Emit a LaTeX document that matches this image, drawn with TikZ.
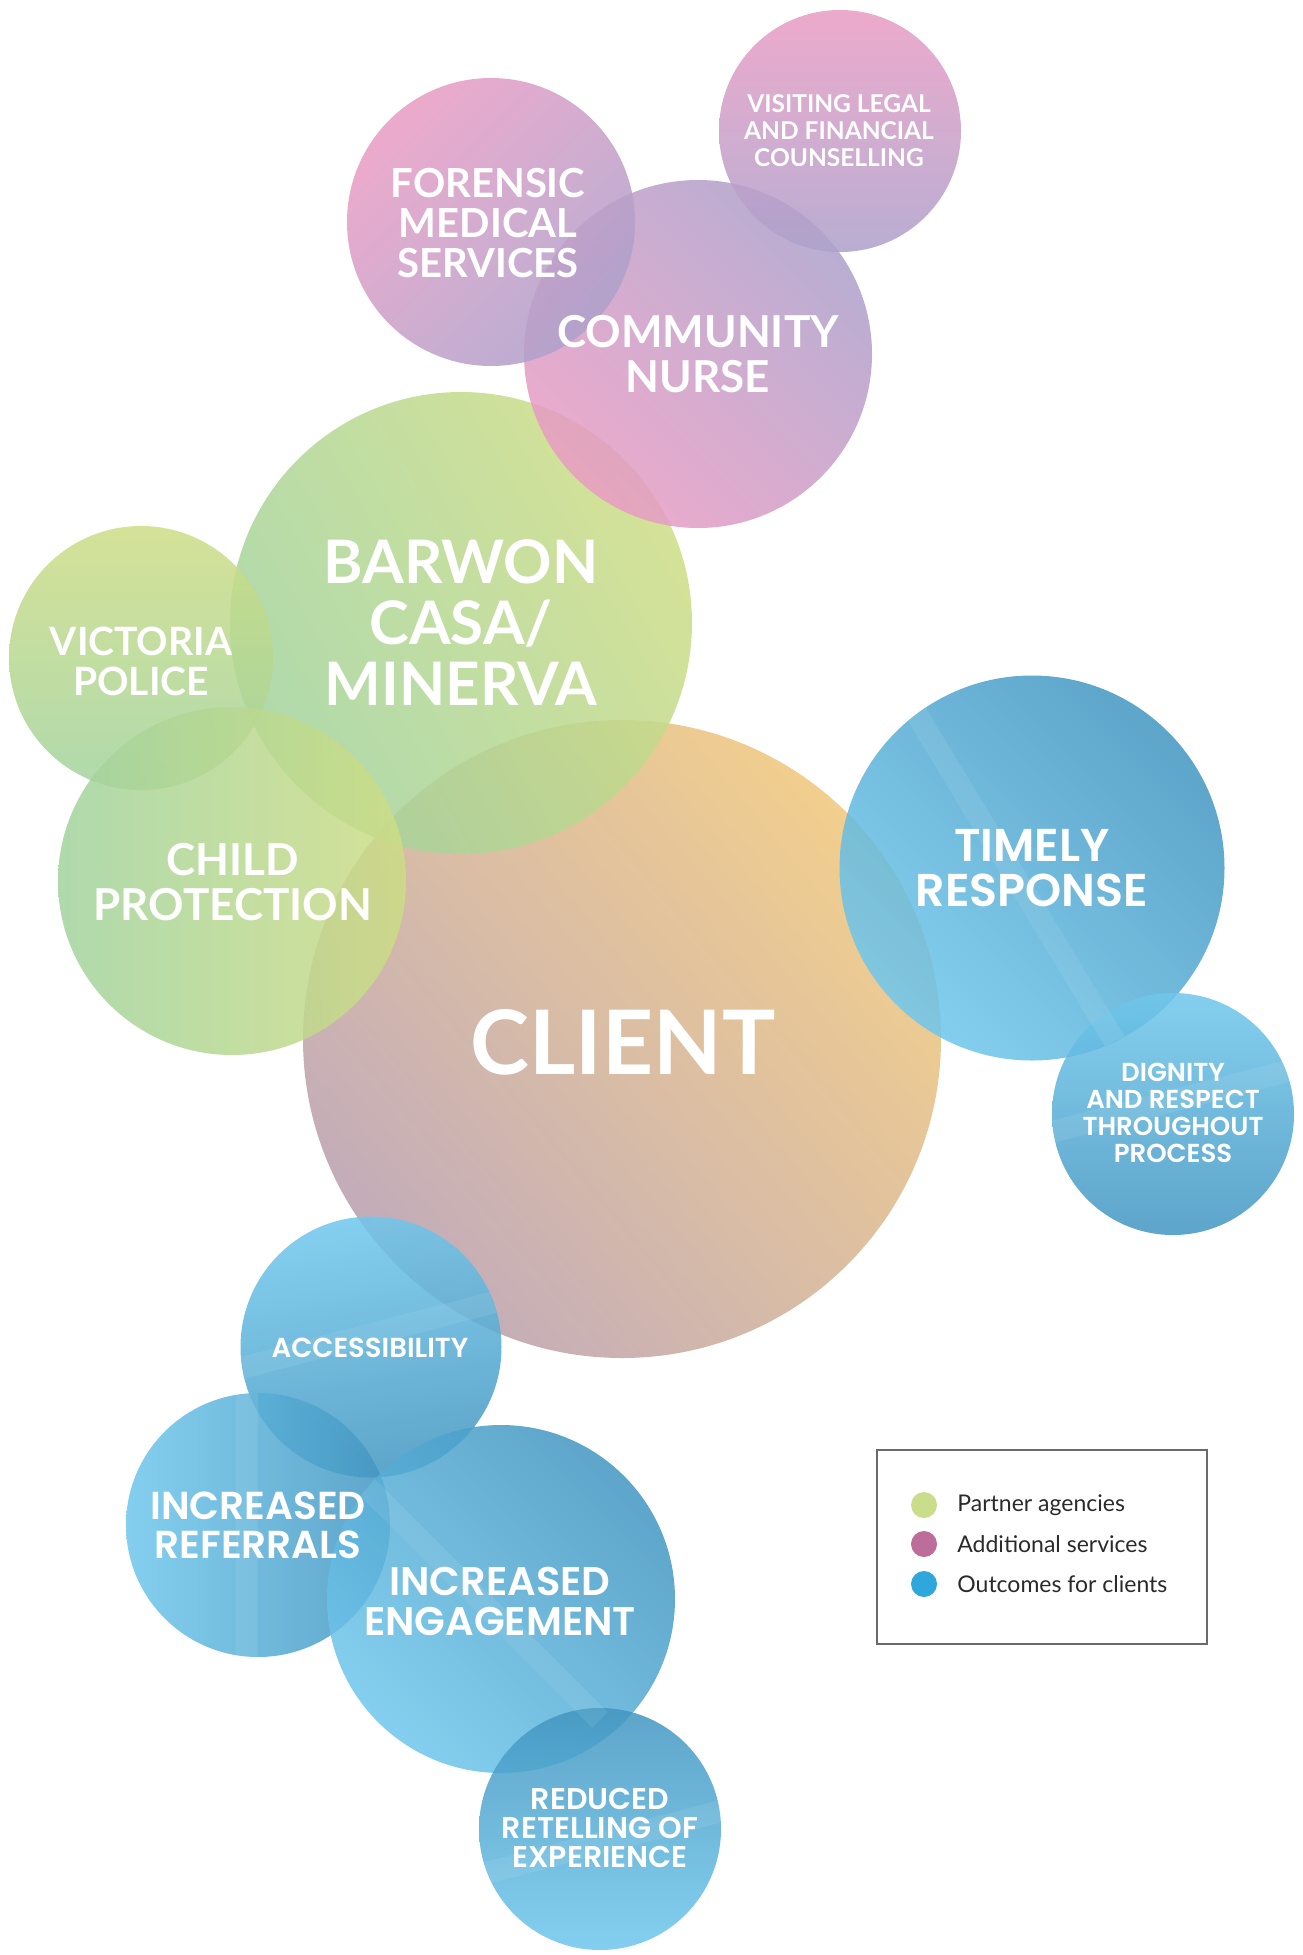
\documentclass[tikz,border=0pt]{standalone}
\usepackage{xcolor}
\usepackage{tikz}
\usepackage{fontspec}
\setmainfont{Lato}
\newfontfamily\outfont{Poppins}[UprightFont={* SemiBold}]
\usetikzlibrary{positioning}

\definecolor{clientA}{HTML}{C0A8B6}
\definecolor{clientM}{HTML}{E9C190}
\definecolor{clientB}{HTML}{F1CC87}
\definecolor{greenA}{HTML}{A2D39E}
\definecolor{greenB}{HTML}{CEDD86}
\definecolor{pinkA}{HTML}{E99CC4}
\definecolor{pinkB}{HTML}{ADA1CB}
\definecolor{blueA}{HTML}{70C7EC}
\definecolor{blueB}{HTML}{4296C1}
\definecolor{dotgreen}{HTML}{CADD8A}
\definecolor{dotpink}{HTML}{BC6D99}
\definecolor{dotblue}{HTML}{2FA6DC}
\definecolor{boxgray}{HTML}{6A6A6A}
\definecolor{legendtext}{HTML}{2A2A2A}

\tikzset{
  bubble/.style={circle, inner sep=0pt, outer sep=0pt, minimum size=#1, fill opacity=0.86},
  partner/.style={shade, left color=greenA, right color=greenB},
  service/.style={shade, left color=pinkA, right color=pinkB},
  outcome/.style={shade, left color=blueA, right color=blueB},
  lbl/.style n args={2}{text=white, align=center, inner sep=0pt, font=\fontsize{#1}{#2}\selectfont\bfseries},
  olbl/.style n args={2}{text=white, align=center, inner sep=0pt, font=\outfont\fontsize{#1}{#2}\selectfont},
  glare/.style={white, opacity=0.08, line width=22pt},
  dot/.style={circle, inner sep=0pt, minimum size=26pt},
  keytext/.style={text=legendtext, inner sep=0pt, font=\fontsize{23}{23}\selectfont, right=20pt of #1},
}

\begin{document}
\begin{tikzpicture}[x=1pt, y=-1pt]
  \useasboundingbox (0,0) rectangle (1303,1955);

  \node[bubble=638pt, shade, left color=clientA, middle color=clientM, right color=clientB, shading angle=130, fill opacity=0.95] (client) at (622,1039) {};
  \node[bubble=462pt, partner, shading angle=120] (barwon)    at (461,623)  {};
  \node[bubble=264pt, partner, shading angle=180] (victoria)  at (141,658)  {};
  \node[bubble=348pt, partner, shading angle=90]  (child)     at (232,881)  {};
  \node[bubble=348pt, service, shading angle=135] (community) at (698,354)  {};
  \node[bubble=288pt, service, shading angle=45]  (forensic)  at (491,222)  {};
  \node[bubble=242pt, service, shading angle=0]   (visiting)  at (840,131)  {};
  \node[bubble=385pt, outcome, shading angle=135] (timely)    at (1032,868) {};
  \node[bubble=242pt, outcome, shading angle=0]   (dignity)   at (1173,1114) {};
  \node[bubble=261pt, outcome, shading angle=10]  (access)    at (371,1347) {};
  \node[bubble=264pt, outcome, shading angle=90]  (referrals) at (258,1525) {};
  \node[bubble=348pt, outcome, shading angle=135] (engage)    at (501,1599) {};
  \node[bubble=242pt, outcome, shading angle=180] (retelling) at (600,1829) {};

  \begin{scope}
    \clip (timely) circle[radius=192pt];
    \draw[glare] (890,670) -- (1120,1050);
  \end{scope}
  \begin{scope}
    \clip (dignity) circle[radius=121pt];
    \draw[glare] (1040,1135) -- (1300,1068);
  \end{scope}
  \begin{scope}
    \clip (access) circle[radius=130pt];
    \draw[glare] (230,1371) -- (510,1298);
  \end{scope}
  \begin{scope}
    \clip (referrals) circle[radius=132pt];
    \draw[glare] (247,1390) -- (247,1660);
  \end{scope}
  \begin{scope}
    \clip (engage) circle[radius=174pt];
    \draw[glare] (360,1480) -- (600,1720);
  \end{scope}
  \begin{scope}
    \clip (retelling) circle[radius=121pt];
    \draw[glare] (475,1876) -- (725,1810);
  \end{scope}

  \node[lbl={89}{89}]  (t_client)    at (623,1042) {CLIENT};
  \node[lbl={60}{61}]  (t_barwon)    at (461,623)  {BARWON\\CASA/\\MINERVA};
  \node[lbl={39}{40}]  (t_victoria)  at (141,661)  {VICTORIA\\POLICE};
  \node[lbl={44}{45}]  (t_child)     at (233,882)  {CHILD\\PROTECTION};
  \node[lbl={44}{45}]  (t_community) at (698,354)  {COMMUNITY\\NURSE};
  \node[lbl={40}{40}]  (t_forensic)  at (488,223)  {FORENSIC\\MEDICAL\\SERVICES};
  \node[lbl={24.5}{27}] (t_visiting) at (839,131)  {VISITING LEGAL\\AND FINANCIAL\\COUNSELLING};
  \node[olbl={46}{45}] (t_timely)    at (1032,868) {TIMELY\\RESPONSE};
  \node[olbl={26}{27}] (t_dignity)   at (1173,1113) {DIGNITY\\AND RESPECT\\THROUGHOUT\\PROCESS};
  \node[olbl={27.5}{27}] (t_access)  at (370,1348) {ACCESSIBILITY};
  \node[olbl={39}{39}] (t_referrals) at (258,1525) {INCREASED\\REFERRALS};
  \node[olbl={40}{40}] (t_engage)    at (500,1601) {INCREASED\\ENGAGEMENT};
  \node[olbl={30}{29}] (t_retelling) at (600,1828) {REDUCED\\RETELLING OF\\EXPERIENCE};

  \node[draw=boxgray, line width=2.5pt, minimum width=330pt, minimum height=194pt, inner sep=0pt] (legend) at (1042,1547) {};
  \node[dot, fill=dotgreen] (d_1) at (924,1505) {};
  \node[dot, fill=dotpink]  (d_2) at (924,1544) {};
  \node[dot, fill=dotblue]  (d_3) at (924,1584) {};
  \node[keytext=d_1] (k_1) {Partner agencies};
  \node[keytext=d_2] (k_2) {Additional services};
  \node[keytext=d_3] (k_3) {Outcomes for clients};
\end{tikzpicture}
\end{document}
